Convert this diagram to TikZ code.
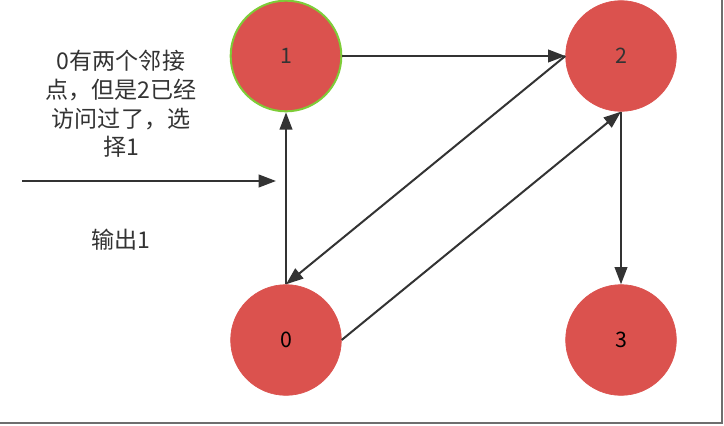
\documentclass[tikz,border=0pt]{standalone}
\usepackage{fontspec}
\newfontfamily\cjk{Noto Sans CJK SC}
\definecolor{nodered}{RGB}{219, 82, 78}
\definecolor{visitgreen}{RGB}{126, 204, 56}
\definecolor{edgegray}{RGB}{51, 51, 51}
\definecolor{framegray}{RGB}{110, 110, 110}
\usetikzlibrary{
    arrows.meta,
    positioning
}
\tikzset{
    vertex/.style={circle, fill=nodered, draw=nodered, line width=0.5pt,
        minimum size=83pt, inner sep=0pt, font=\cjk\fontsize{16}{19}\selectfont},
    visited/.style={draw=visitgreen, line width=1.5pt},
    edge/.style={draw=edgegray, line width=1.5pt, -{Triangle[length=13pt, width=9.5pt]}},
    note/.style={font=\cjk\fontsize{17.3}{21.4}\selectfont, text=edgegray, align=center}
}
\begin{document}
\begin{tikzpicture}[x=0.75pt, y=-0.75pt]
            \useasboundingbox (0,0) rectangle (724,425);
            % Frame edges
            \draw[framegray, line width=1.5pt] (722,0) -- (722,423) -- (0,423);

            % Vertices
            \node[vertex, visited, text=edgegray] (n1) at (286,56) {1};
            \node[vertex, text=edgegray] (n2) at (621,56) {2};
            \node[vertex, text=black] (n0) at (286,340) {0};
            \node[vertex, text=black] (n3) at (621,340) {3};

            % Edges
            \draw[edge] (n1.east) -- (n2.west);
            \draw[edge] (n2.west) -- (n0.north);
            \draw[edge] (n0.east) -- (n2.south);
            \draw[edge] (n0.north) -- (n1.south);
            \draw[edge] (n2.south) -- (n3.north);

            % Explanation
            \node[note] (reason) at (121,104) {0有两个邻接\\点，但是2已经\\访问过了，选\\择1};
            \coordinate (arrowstart) at (22,181);
            \coordinate (arrowend) at (276,181);
            \draw[edge] (arrowstart) -- (arrowend);
            \node[note] (output) at (121,240) {输出1};
        \end{tikzpicture}
\end{document}
